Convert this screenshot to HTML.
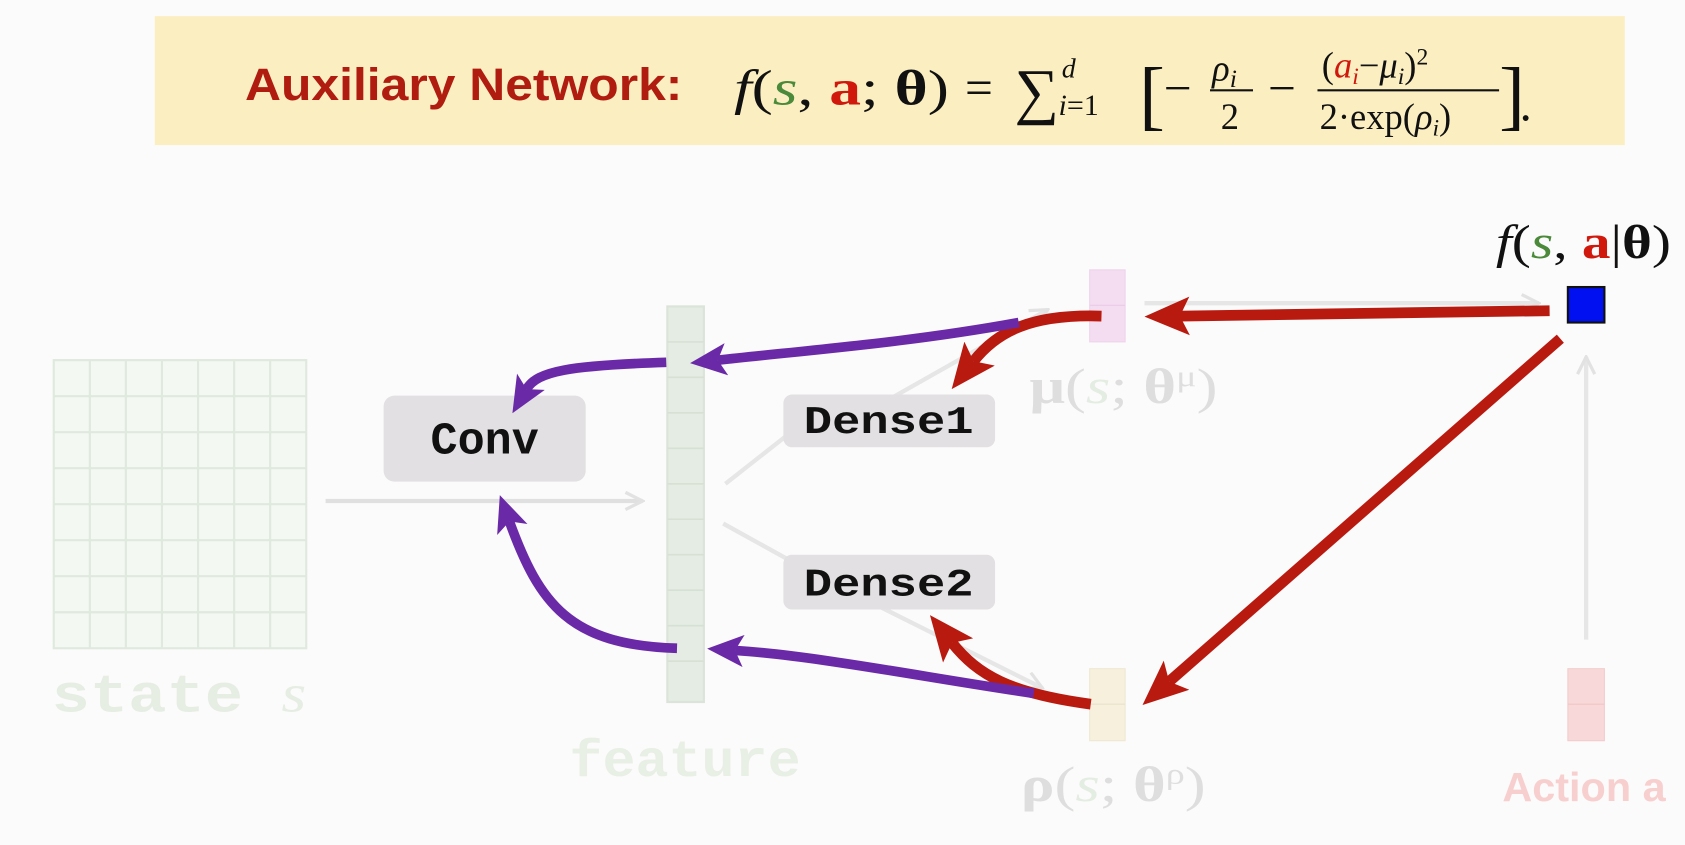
<!DOCTYPE html>
<html><head><meta charset="utf-8"><style>
html,body{margin:0;padding:0;background:#fcfbfb;}
svg{display:block;}
</style></head><body>
<svg width="1685" height="845" viewBox="0 0 1568 786" preserveAspectRatio="none" xmlns="http://www.w3.org/2000/svg">
<defs>
<marker id="ar" markerWidth="42" markerHeight="36" refX="9" refY="18" orient="auto" markerUnits="userSpaceOnUse"><path d="M0,0 L42,18 L0,36 L9,18 Z" fill="#b81a10"/></marker>
<marker id="ap" markerWidth="34" markerHeight="30" refX="8" refY="15" orient="auto" markerUnits="userSpaceOnUse"><path d="M0,0 L34,15 L0,30 L8,15 Z" fill="#6a2aa8"/></marker>
<marker id="ag" markerWidth="20" markerHeight="20" refX="18" refY="10" orient="auto" markerUnits="userSpaceOnUse"><path d="M2,2 L18,10 L2,18" fill="none" stroke="#e2e2e2" stroke-width="3"/></marker>
</defs>
<rect width="1568" height="786" fill="#fcfbfb"/>
<rect x="144" y="15" width="1368" height="120" fill="#fbefc2"/>
<text x="228" y="93" textLength="407" lengthAdjust="spacingAndGlyphs" font-family="Liberation Sans, sans-serif" font-weight="bold" font-size="42" fill="#b01c10">Auxiliary Network:</text>
<g font-family="Liberation Serif, serif" font-size="46" fill="#111">
<text x="683" y="97" textLength="200" lengthAdjust="spacingAndGlyphs"><tspan font-style="italic">f</tspan>(<tspan font-style="italic" fill="#4a8a3a">s</tspan>, <tspan font-weight="bold" fill="#d0180c">a</tspan>; <tspan font-weight="bold">θ</tspan>)</text>
<text x="898" y="97">=</text>
<text x="944" y="104" font-size="58">∑</text>
<text x="988" y="72" font-size="26" font-style="italic">d</text>
<text x="985" y="107" font-size="28"><tspan font-style="italic">i</tspan>=1</text>
<text x="1060" y="112" font-size="72" font-weight="200">[</text>
<text x="1083" y="97">−</text>
<text x="1128" y="75" font-size="34" font-style="italic">ρ<tspan font-size="24" dy="6">i</tspan></text>
<line x1="1126" y1="84" x2="1166" y2="84" stroke="#111" stroke-width="2"/>
<text x="1136" y="120" font-size="34">2</text>
<text x="1180" y="97">−</text>
<text x="1230" y="72" font-size="34">(<tspan font-style="italic" fill="#d0180c">a</tspan><tspan font-size="22" dy="6" font-style="italic" fill="#d0180c">i</tspan><tspan dy="-6">−</tspan><tspan font-style="italic">μ</tspan><tspan font-size="22" dy="6" font-style="italic">i</tspan><tspan dy="-6">)</tspan><tspan font-size="22" dy="-12">2</tspan></text>
<line x1="1226" y1="84" x2="1395" y2="84" stroke="#111" stroke-width="2"/>
<text x="1228" y="120" font-size="34">2·exp(<tspan font-style="italic">ρ</tspan><tspan font-size="22" dy="6" font-style="italic">i</tspan><tspan dy="-6">)</tspan></text>
<text x="1395" y="112" font-size="72" font-weight="200">]</text>
<text x="1414" y="112">.</text>
</g>
<g stroke="#dfe9dd" stroke-width="2" fill="#f4f8f3">
<rect x="50" y="335" width="235" height="268"/>
<path d="M83.6,335V603M117.1,335V603M150.7,335V603M184.3,335V603M217.9,335V603M251.4,335V603M50,368.5H285M50,402H285M50,435.5H285M50,469H285M50,502.5H285M50,536H285M50,569.5H285" fill="none"/>
</g>
<text x="48" y="662" textLength="237" lengthAdjust="spacingAndGlyphs" font-family="Liberation Mono, monospace" font-weight="bold" font-size="50" fill="#e6eee4">state <tspan font-family="Liberation Serif, serif" font-style="italic" font-weight="normal">s</tspan></text>
<line x1="303" y1="466" x2="598" y2="466" stroke="#e0e0e0" stroke-width="4" marker-end="url(#ag)"/>
<g>
<rect x="621" y="285" width="34" height="368" fill="#e5ece3" stroke="#dbe4d9" stroke-width="2"/>
<path d="M621,318H655M621,351H655M621,384H655M621,417H655M621,450H655M621,483H655M621,516H655M621,549H655M621,582H655M621,615H655" stroke="#d6e0d4" stroke-width="1.5"/>
</g>
<text x="530" y="722" textLength="215" lengthAdjust="spacingAndGlyphs" font-family="Liberation Mono, monospace" font-weight="bold" font-size="48" fill="#e8efe5">feature</text>
<g stroke="#e6e6e6" stroke-width="4" fill="none">
<line x1="675" y1="450" x2="745" y2="395"/>
<line x1="673" y1="487" x2="740" y2="524"/>
<line x1="830" y1="370" x2="975" y2="288" marker-end="url(#ag)"/>
<line x1="820" y1="565" x2="970" y2="640" marker-end="url(#ag)"/>
<line x1="1065" y1="282" x2="1432" y2="282" marker-end="url(#ag)"/>
<line x1="1476" y1="595" x2="1476" y2="332" marker-end="url(#ag)"/>
</g>
<g>
<rect x="357" y="368" width="188" height="80" rx="10" fill="#e2e0e2"/>
<text x="451" y="422" text-anchor="middle" font-family="Liberation Mono, monospace" font-weight="bold" font-size="42" fill="#111">Conv</text>
</g>
<g>
<rect x="729" y="367" width="197" height="49" rx="8" fill="#e2e0e2"/>
<text x="827" y="403" text-anchor="middle" textLength="158" lengthAdjust="spacingAndGlyphs" font-family="Liberation Mono, monospace" font-weight="bold" font-size="36" fill="#111">Dense1</text>
</g>
<g>
<rect x="729" y="516" width="197" height="51" rx="8" fill="#e2e0e2"/>
<text x="827" y="554" text-anchor="middle" textLength="158" lengthAdjust="spacingAndGlyphs" font-family="Liberation Mono, monospace" font-weight="bold" font-size="36" fill="#111">Dense2</text>
</g>
<g><rect x="1014" y="251" width="33" height="67" fill="#f4dcf1" stroke="#eed3eb"/><line x1="1014" y1="284" x2="1047" y2="284" stroke="#e8cde6"/></g>
<g><rect x="1014" y="622" width="33" height="67" fill="#f6f0dc" stroke="#eee7d2"/><line x1="1014" y1="655" x2="1047" y2="655" stroke="#e9e1cb"/></g>
<g><rect x="1459" y="622" width="34" height="67" fill="#f8d8d8" stroke="#f3cccc"/><line x1="1459" y1="655" x2="1493" y2="655" stroke="#f0c6c6"/></g>
<text x="958" y="375" textLength="175" lengthAdjust="spacingAndGlyphs" font-family="Liberation Serif, serif" font-size="46" fill="#dedede"><tspan font-weight="bold">μ</tspan>(<tspan font-style="italic" fill="#e4ede2">s</tspan>; <tspan font-weight="bold">θ</tspan><tspan font-size="28" dy="-16">μ</tspan><tspan dy="16">)</tspan></text>
<text x="950" y="745" textLength="172" lengthAdjust="spacingAndGlyphs" font-family="Liberation Serif, serif" font-size="46" fill="#dedede"><tspan font-weight="bold">ρ</tspan>(<tspan font-style="italic" fill="#e4ede2">s</tspan>; <tspan font-weight="bold">θ</tspan><tspan font-size="28" dy="-16">ρ</tspan><tspan dy="16">)</tspan></text>
<text x="1398" y="745" textLength="152" lengthAdjust="spacingAndGlyphs" font-family="Liberation Sans, sans-serif" font-weight="bold" font-size="38" fill="#f8cfcf">Action a</text>
<text x="1392" y="240" textLength="163" lengthAdjust="spacingAndGlyphs" font-family="Liberation Serif, serif" font-size="44" fill="#111"><tspan font-style="italic">f</tspan>(<tspan font-style="italic" fill="#4a8a3a">s</tspan>, <tspan font-weight="bold" fill="#d0180c">a</tspan>|<tspan font-weight="bold">θ</tspan>)</text>
<rect x="1459" y="267" width="34" height="33" fill="#0010f0" stroke="#111" stroke-width="2"/>
<g stroke="#b81a10" stroke-width="10" fill="none" stroke-linecap="butt">
<path d="M1442,289 L1098,294" marker-end="url(#ar)"/>
<path d="M1025,294 C960,292 928,308 906,336" marker-end="url(#ar)"/>
<path d="M1452,315 L1088,634" marker-end="url(#ar)"/>
<path d="M1015,655 C940,645 910,628 886,598" marker-end="url(#ar)"/>
</g>
<g stroke="#6a2aa8" stroke-width="9" fill="none">
<path d="M948,300 C850,318 760,325 668,335" marker-end="url(#ap)"/>
<path d="M620,337 C530,340 500,345 490,362" marker-end="url(#ap)"/>
<path d="M630,603 C530,600 502,562 474,485" marker-end="url(#ap)"/>
<path d="M962,645 C860,630 760,610 684,605" marker-end="url(#ap)"/>
</g>
</svg>
</body></html>
